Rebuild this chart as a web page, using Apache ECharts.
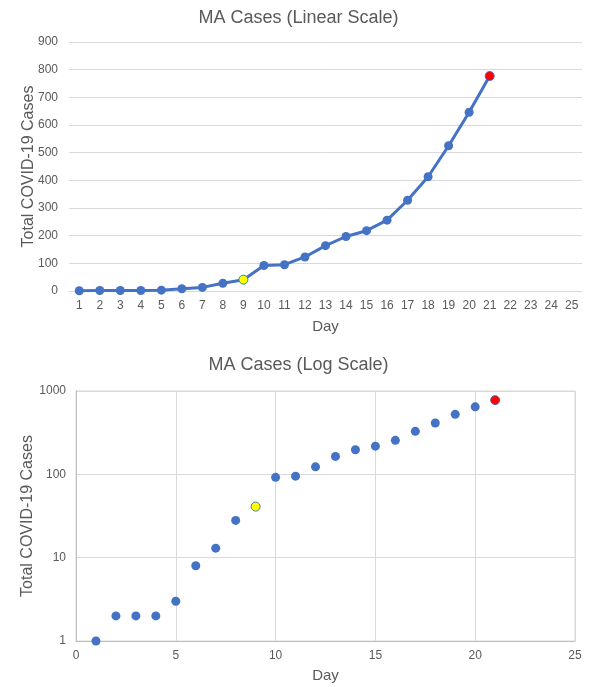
<!DOCTYPE html>
<html><head><meta charset="utf-8">
<script src="https://cdn.jsdelivr.net/npm/echarts@6/dist/echarts.min.js"></script>
<style>html,body{margin:0;padding:0;background:#fff}#c{width:597px;height:687px}</style>
</head><body><div id="c"></div>
<script>
const days = [1,2,3,4,5,6,7,8,9,10,11,12,13,14,15,16,17,18,19,20,21];
const cases = [1,2,2,2,3,8,13,28,41,92,95,123,164,197,218,256,328,413,525,646,777];
const dayLabels = ['1','2','3','4','5','6','7','8','9','10','11','12','13','14','15','16','17','18','19','20','21','22','23','24','25'];
const highlightDays = {9:'#FFFF00', 21:'#FF0000'};

const blue = '#4472C4', txt = '#595959', gridC = '#d9d9d9';
const font = 'Liberation Sans, Arial, sans-serif';

function styled(day, value, pair){
  const v = pair ? [day, value] : value;
  if (highlightDays[day]) {
    return {value: v, itemStyle: {color: highlightDays[day], borderColor: day===9 ? '#3d7f8a' : '#5a64b4', borderWidth: 1}};
  }
  return {value: v};
}

const chart = echarts.init(document.getElementById('c'), null, {renderer:'canvas'});
chart.setOption({
  animation:false,
  textStyle:{fontFamily:font},
  title:[
    {text:'MA Cases (Linear Scale)', left:'center', top:4, textStyle:{fontFamily:font, fontSize:18, fontWeight:'normal', color:txt}},
    {text:'MA Cases (Log Scale)', left:'center', top:351, textStyle:{fontFamily:font, fontSize:18, fontWeight:'normal', color:txt}}
  ],
  grid:[
    {left:69, right:15, top:42, height:249},
    {left:76, right:22, top:391, height:250, show:true, borderColor:gridC, borderWidth:1}
  ],
  xAxis:[
    {gridIndex:0, type:'category', data:dayLabels, boundaryGap:true,
     name:'Day', nameLocation:'middle', nameGap:28, nameMoveOverlap:false, nameTextStyle:{fontFamily:font, fontSize:15, color:txt},
     axisLine:{lineStyle:{color:gridC}}, axisTick:{show:false},
     axisLabel:{color:txt, fontSize:12, margin:9, interval:0}, splitLine:{show:false}},
    {gridIndex:1, type:'value', min:0, max:25, interval:5,
     name:'Day', nameLocation:'middle', nameGap:27, nameMoveOverlap:false, nameTextStyle:{fontFamily:font, fontSize:15, color:txt},
     axisLine:{lineStyle:{color:'#bfbfbf'}}, axisTick:{show:false},
     axisLabel:{color:txt, fontSize:12, margin:9}, splitLine:{show:true, lineStyle:{color:gridC}}}
  ],
  yAxis:[
    {gridIndex:0, type:'value', min:0, max:900, interval:100,
     name:'Total COVID-19 Cases', nameLocation:'middle', nameGap:32, nameMoveOverlap:false, nameTextStyle:{fontFamily:font, fontSize:16, color:txt},
     axisLine:{show:false}, axisTick:{show:false},
     axisLabel:{color:txt, fontSize:12, margin:11}, splitLine:{lineStyle:{color:gridC}}},
    {gridIndex:1, type:'log', logBase:10, min:1, max:1000,
     name:'Total COVID-19 Cases', nameLocation:'middle', nameGap:40, nameMoveOverlap:false, nameTextStyle:{fontFamily:font, fontSize:16, color:txt},
     axisLine:{show:true, lineStyle:{color:'#bfbfbf'}}, axisTick:{show:false},
     axisLabel:{color:txt, fontSize:12, margin:10, formatter:v=>String(Math.round(v))}, splitLine:{lineStyle:{color:gridC}}}
  ],
  series:[
    {type:'line', xAxisIndex:0, yAxisIndex:0, data: days.map((d,i)=>styled(d,cases[i],false)),
     symbol:'circle', symbolSize:9, lineStyle:{color:blue, width:3}, itemStyle:{color:blue}},
    {type:'scatter', xAxisIndex:1, yAxisIndex:1, data: days.map((d,i)=>styled(d,cases[i],true)),
     symbol:'circle', symbolSize:9, itemStyle:{color:blue, opacity:1}}
  ]
});
</script></body></html>
